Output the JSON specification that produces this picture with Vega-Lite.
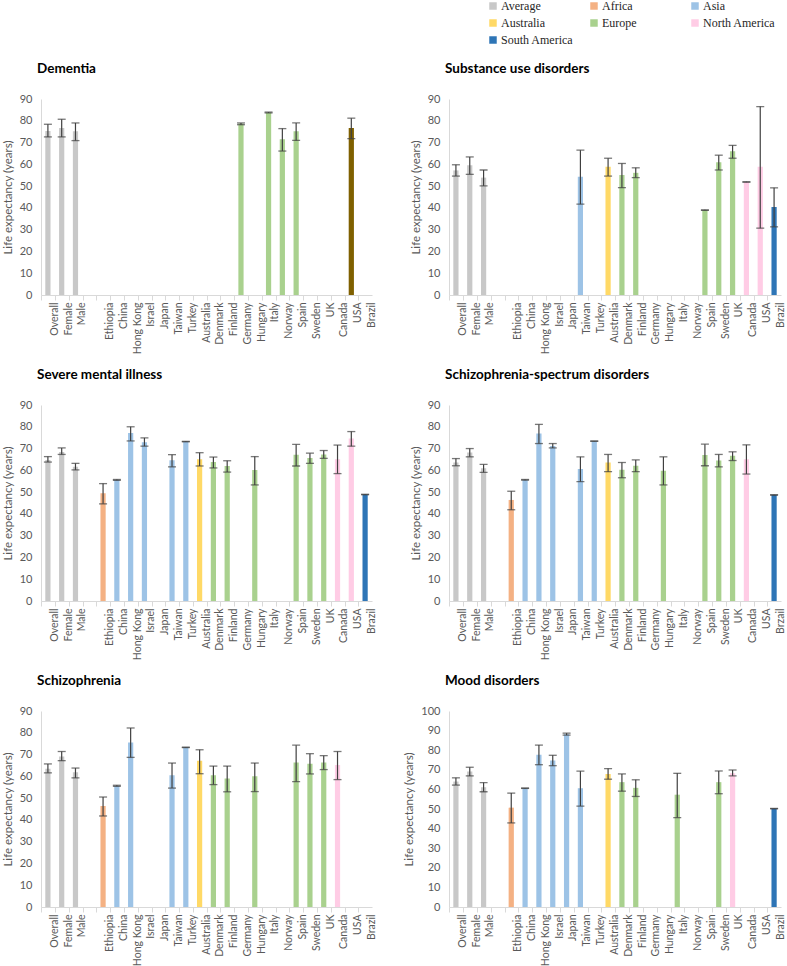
{
  "$schema": "https://vega.github.io/schema/vega-lite/v6.json",
  "padding": {"left": 2, "top": 0, "right": 0, "bottom": 0},
  "data": {"values": [
    {"panel":"Dementia","country":"Overall","value":75.3,"low":72.6,"high":78.4,"region":"Average"},
    {"panel":"Dementia","country":"Female","value":76.7,"low":72.6,"high":80.7,"region":"Average"},
    {"panel":"Dementia","country":"Male","value":75.2,"low":70.9,"high":79.0,"region":"Average"},
    {"panel":"Dementia","country":"Germany","value":78.7,"low":78.2,"high":79.0,"region":"Europe"},
    {"panel":"Dementia","country":"Italy","value":83.8,"low":83.6,"high":84.0,"region":"Europe"},
    {"panel":"Dementia","country":"Norway","value":71.5,"low":66.1,"high":76.4,"region":"Europe"},
    {"panel":"Dementia","country":"Spain","value":75.2,"low":71.0,"high":79.0,"region":"Europe"},
    {"panel":"Dementia","country":"USA","value":76.7,"low":71.8,"high":81.2,"region":"Other"},

    {"panel":"Substance","country":"Overall","value":57.2,"low":54.6,"high":59.8,"region":"Average"},
    {"panel":"Substance","country":"Female","value":59.6,"low":55.4,"high":63.4,"region":"Average"},
    {"panel":"Substance","country":"Male","value":53.9,"low":50.1,"high":57.4,"region":"Average"},
    {"panel":"Substance","country":"Taiwan","value":54.3,"low":41.7,"high":66.5,"region":"Asia"},
    {"panel":"Substance","country":"Australia","value":58.9,"low":54.6,"high":62.8,"region":"Australia"},
    {"panel":"Substance","country":"Denmark","value":55.1,"low":49.3,"high":60.4,"region":"Europe"},
    {"panel":"Substance","country":"Finland","value":56.1,"low":53.9,"high":58.4,"region":"Europe"},
    {"panel":"Substance","country":"Spain","value":39.0,"low":38.9,"high":39.1,"region":"Europe"},
    {"panel":"Substance","country":"Sweden","value":61.0,"low":57.4,"high":64.2,"region":"Europe"},
    {"panel":"Substance","country":"UK","value":66.0,"low":62.8,"high":68.7,"region":"Europe"},
    {"panel":"Substance","country":"Canada","value":51.9,"low":51.8,"high":52.0,"region":"North America"},
    {"panel":"Substance","country":"USA","value":58.9,"low":30.7,"high":86.5,"region":"North America"},
    {"panel":"Substance","country":"Brazil","value":40.4,"low":31.3,"high":49.2,"region":"South America"},

    {"panel":"SMI","country":"Overall","value":64.8,"low":63.8,"high":66.3,"region":"Average"},
    {"panel":"SMI","country":"Female","value":68.4,"low":67.3,"high":70.3,"region":"Average"},
    {"panel":"SMI","country":"Male","value":61.7,"low":60.2,"high":63.2,"region":"Average"},
    {"panel":"SMI","country":"Ethiopia","value":49.5,"low":44.6,"high":53.9,"region":"Africa"},
    {"panel":"SMI","country":"China","value":55.6,"low":55.4,"high":55.8,"region":"Asia"},
    {"panel":"SMI","country":"Hong Kong","value":77.2,"low":73.5,"high":80.0,"region":"Asia"},
    {"panel":"SMI","country":"Israel","value":72.9,"low":71.1,"high":74.9,"region":"Asia"},
    {"panel":"SMI","country":"Taiwan","value":64.6,"low":61.6,"high":67.2,"region":"Asia"},
    {"panel":"SMI","country":"Turkey","value":73.2,"low":73.1,"high":73.3,"region":"Asia"},
    {"panel":"SMI","country":"Australia","value":65.1,"low":62.0,"high":68.1,"region":"Australia"},
    {"panel":"SMI","country":"Denmark","value":63.8,"low":61.1,"high":66.1,"region":"Europe"},
    {"panel":"SMI","country":"Finland","value":62.0,"low":59.2,"high":64.4,"region":"Europe"},
    {"panel":"SMI","country":"Hungary","value":60.1,"low":53.3,"high":66.3,"region":"Europe"},
    {"panel":"SMI","country":"Spain","value":67.2,"low":62.0,"high":71.9,"region":"Europe"},
    {"panel":"SMI","country":"Sweden","value":65.7,"low":63.2,"high":67.9,"region":"Europe"},
    {"panel":"SMI","country":"UK","value":67.3,"low":65.5,"high":69.1,"region":"Europe"},
    {"panel":"SMI","country":"Canada","value":65.1,"low":58.5,"high":71.6,"region":"North America"},
    {"panel":"SMI","country":"USA","value":74.6,"low":71.1,"high":77.8,"region":"North America"},
    {"panel":"SMI","country":"Brazil","value":48.9,"low":48.8,"high":49.0,"region":"South America"},

    {"panel":"SSD","country":"Overall","value":63.6,"low":62.1,"high":65.4,"region":"Average"},
    {"panel":"SSD","country":"Female","value":68.2,"low":66.2,"high":70.0,"region":"Average"},
    {"panel":"SSD","country":"Male","value":60.9,"low":59.1,"high":62.7,"region":"Average"},
    {"panel":"SSD","country":"Ethiopia","value":46.4,"low":41.9,"high":50.4,"region":"Africa"},
    {"panel":"SSD","country":"China","value":55.6,"low":55.5,"high":55.8,"region":"Asia"},
    {"panel":"SSD","country":"Hong Kong","value":76.9,"low":72.3,"high":81.1,"region":"Asia"},
    {"panel":"SSD","country":"Israel","value":71.2,"low":70.3,"high":72.3,"region":"Asia"},
    {"panel":"SSD","country":"Taiwan","value":60.6,"low":54.8,"high":66.2,"region":"Asia"},
    {"panel":"SSD","country":"Turkey","value":73.4,"low":73.3,"high":73.5,"region":"Asia"},
    {"panel":"SSD","country":"Australia","value":63.6,"low":59.4,"high":67.3,"region":"Australia"},
    {"panel":"SSD","country":"Denmark","value":60.3,"low":56.6,"high":63.6,"region":"Europe"},
    {"panel":"SSD","country":"Finland","value":62.1,"low":59.4,"high":64.8,"region":"Europe"},
    {"panel":"SSD","country":"Hungary","value":59.8,"low":53.3,"high":66.2,"region":"Europe"},
    {"panel":"SSD","country":"Spain","value":67.0,"low":62.1,"high":72.0,"region":"Europe"},
    {"panel":"SSD","country":"Sweden","value":64.5,"low":61.6,"high":67.3,"region":"Europe"},
    {"panel":"SSD","country":"UK","value":66.7,"low":64.5,"high":68.5,"region":"Europe"},
    {"panel":"SSD","country":"Canada","value":65.1,"low":58.3,"high":71.7,"region":"North America"},
    {"panel":"SSD","country":"Brzail","value":48.7,"low":48.6,"high":48.8,"region":"South America"},

    {"panel":"Schizophrenia","country":"Overall","value":63.5,"low":61.6,"high":65.7,"region":"Average"},
    {"panel":"Schizophrenia","country":"Female","value":69.1,"low":67.2,"high":71.4,"region":"Average"},
    {"panel":"Schizophrenia","country":"Male","value":61.9,"low":59.3,"high":63.8,"region":"Average"},
    {"panel":"Schizophrenia","country":"Ethiopia","value":46.4,"low":41.8,"high":50.5,"region":"Africa"},
    {"panel":"Schizophrenia","country":"China","value":55.6,"low":55.4,"high":55.9,"region":"Asia"},
    {"panel":"Schizophrenia","country":"Hong Kong","value":75.5,"low":68.7,"high":82.2,"region":"Asia"},
    {"panel":"Schizophrenia","country":"Taiwan","value":60.5,"low":54.6,"high":66.1,"region":"Asia"},
    {"panel":"Schizophrenia","country":"Turkey","value":73.3,"low":73.2,"high":73.4,"region":"Asia"},
    {"panel":"Schizophrenia","country":"Australia","value":67.2,"low":61.2,"high":72.2,"region":"Australia"},
    {"panel":"Schizophrenia","country":"Denmark","value":60.5,"low":56.2,"high":64.7,"region":"Europe"},
    {"panel":"Schizophrenia","country":"Finland","value":59.0,"low":52.9,"high":64.7,"region":"Europe"},
    {"panel":"Schizophrenia","country":"Hungary","value":60.0,"low":53.0,"high":66.1,"region":"Europe"},
    {"panel":"Schizophrenia","country":"Spain","value":66.4,"low":57.6,"high":74.3,"region":"Europe"},
    {"panel":"Schizophrenia","country":"Sweden","value":65.8,"low":61.1,"high":70.4,"region":"Europe"},
    {"panel":"Schizophrenia","country":"UK","value":66.4,"low":63.1,"high":69.5,"region":"Europe"},
    {"panel":"Schizophrenia","country":"Canada","value":65.2,"low":58.5,"high":71.4,"region":"North America"},

    {"panel":"Mood","country":"Overall","value":64.0,"low":62.2,"high":65.9,"region":"Average"},
    {"panel":"Mood","country":"Female","value":69.1,"low":66.9,"high":71.3,"region":"Average"},
    {"panel":"Mood","country":"Male","value":61.1,"low":58.8,"high":63.5,"region":"Average"},
    {"panel":"Mood","country":"Ethiopia","value":50.7,"low":42.9,"high":58.1,"region":"Africa"},
    {"panel":"Mood","country":"China","value":60.6,"low":60.5,"high":60.7,"region":"Asia"},
    {"panel":"Mood","country":"Hong Kong","value":77.7,"low":72.6,"high":82.6,"region":"Asia"},
    {"panel":"Mood","country":"Israel","value":74.7,"low":72.1,"high":77.4,"region":"Asia"},
    {"panel":"Mood","country":"Japan","value":88.2,"low":87.7,"high":88.7,"region":"Asia"},
    {"panel":"Mood","country":"Taiwan","value":60.6,"low":51.5,"high":69.3,"region":"Asia"},
    {"panel":"Mood","country":"Australia","value":67.9,"low":65.2,"high":70.6,"region":"Australia"},
    {"panel":"Mood","country":"Denmark","value":63.7,"low":59.1,"high":67.9,"region":"Europe"},
    {"panel":"Mood","country":"Finland","value":60.8,"low":56.4,"high":64.9,"region":"Europe"},
    {"panel":"Mood","country":"Italy","value":57.3,"low":45.6,"high":68.2,"region":"Europe"},
    {"panel":"Mood","country":"Sweden","value":63.7,"low":57.8,"high":69.4,"region":"Europe"},
    {"panel":"Mood","country":"UK","value":68.2,"low":66.9,"high":69.9,"region":"North America"},
    {"panel":"Mood","country":"Brazil","value":50.2,"low":50.1,"high":50.3,"region":"South America"}
  ]},
  "columns": 2,
  "spacing": {"row": 13, "column": 25},
  "concat": [
    {
      "title": {"text": "Dementia"},
      "width": 331, "height": 196,
      "transform": [{"filter": "datum.panel === 'Dementia'"}],
      "encoding": {"x": {"field": "country", "type": "nominal", "scale": {"domain": ["Overall","Female","Male"," ","Ethiopia","China","Hong Kong","Israel","Japan","Taiwan","Turkey","Australia","Denmark","Finland","Germany","Hungary","Italy","Norway","Spain","Sweden","UK","Canada","USA","Brazil"]}, "axis": {"title": null, "labelOffset": 6.9}}},
      "layer": [
        {"mark": {"type": "bar", "width": {"band": 0.42}},
         "encoding": {"y": {"field": "value", "type": "quantitative", "scale": {"domain": [0, 90], "nice": false}, "axis": {"values": [0,10,20,30,40,50,60,70,80,90]}, "title": "Life expectancy (years)"},
           "color": {"field": "region", "type": "nominal", "scale": {"domain": ["Average","Africa","Asia","Australia","Europe","North America","South America","Other"], "range": ["#c8c8c8","#f4b183","#9dc3e6","#ffd966","#a9d18e","#ffcce5","#2e75b6","#7f6000"]}, "legend": {"values": ["Average","Africa","Asia","Australia","Europe","North America","South America"], "encode": {"symbols": {"update": {"fill": {"signal": "datum.value === 'Average' ? '#7f7f7f' : datum.value === 'Africa' ? '#c55a11' : datum.value === 'Asia' ? '#9dc3e6' : datum.value === 'Australia' ? '#ffd966' : datum.value === 'Europe' ? '#70ad47' : datum.value === 'North America' ? '#ffcce5' : '#2e75b6'"}}}}}}}},
        {"mark": {"type": "errorbar", "ticks": {"size": 8, "color": "#404040", "thickness": 1.3}, "rule": {"color": "#404040", "strokeWidth": 1.2}},
         "encoding": {"y": {"field": "low", "type": "quantitative", "axis": {"values": [0,10,20,30,40,50,60,70,80,90]}, "title": "Life expectancy (years)"}, "y2": {"field": "high"}}}
      ]
    },
    {
      "title": {"text": "Substance use disorders"},
      "width": 332, "height": 196,
      "transform": [{"filter": "datum.panel === 'Substance'"}],
      "encoding": {"x": {"field": "country", "type": "nominal", "scale": {"domain": ["Overall","Female","Male"," ","Ethiopia","China","Hong Kong","Israel","Japan","Taiwan","Turkey","Australia","Denmark","Finland","Germany","Hungary","Italy","Norway","Spain","Sweden","UK","Canada","USA","Brazil"]}, "axis": {"title": null, "labelOffset": 6.9}}},
      "layer": [
        {"mark": {"type": "bar", "width": {"band": 0.42}},
         "encoding": {"y": {"field": "value", "type": "quantitative", "scale": {"domain": [0, 90], "nice": false}, "axis": {"values": [0,10,20,30,40,50,60,70,80,90]}, "title": "Life expectancy (years)"},
           "color": {"field": "region", "type": "nominal", "legend": {"values": ["Average","Africa","Asia","Australia","Europe","North America","South America"], "encode": {"symbols": {"update": {"fill": {"signal": "datum.value === 'Average' ? '#7f7f7f' : datum.value === 'Africa' ? '#c55a11' : datum.value === 'Asia' ? '#9dc3e6' : datum.value === 'Australia' ? '#ffd966' : datum.value === 'Europe' ? '#70ad47' : datum.value === 'North America' ? '#ffcce5' : '#2e75b6'"}}}}}}}},
        {"mark": {"type": "errorbar", "ticks": {"size": 8, "color": "#404040", "thickness": 1.3}, "rule": {"color": "#404040", "strokeWidth": 1.2}},
         "encoding": {"y": {"field": "low", "type": "quantitative", "axis": {"values": [0,10,20,30,40,50,60,70,80,90]}, "title": "Life expectancy (years)"}, "y2": {"field": "high"}}}
      ]
    },
    {
      "title": {"text": "Severe mental illness"},
      "width": 331, "height": 196,
      "transform": [{"filter": "datum.panel === 'SMI'"}],
      "encoding": {"x": {"field": "country", "type": "nominal", "scale": {"domain": ["Overall","Female","Male"," ","Ethiopia","China","Hong Kong","Israel","Japan","Taiwan","Turkey","Australia","Denmark","Finland","Germany","Hungary","Italy","Norway","Spain","Sweden","UK","Canada","USA","Brazil"]}, "axis": {"title": null, "labelOffset": 6.9}}},
      "layer": [
        {"mark": {"type": "bar", "width": {"band": 0.42}},
         "encoding": {"y": {"field": "value", "type": "quantitative", "scale": {"domain": [0, 90], "nice": false}, "axis": {"values": [0,10,20,30,40,50,60,70,80,90]}, "title": "Life expectancy (years)"},
           "color": {"field": "region", "type": "nominal", "legend": {"values": ["Average","Africa","Asia","Australia","Europe","North America","South America"], "encode": {"symbols": {"update": {"fill": {"signal": "datum.value === 'Average' ? '#7f7f7f' : datum.value === 'Africa' ? '#c55a11' : datum.value === 'Asia' ? '#9dc3e6' : datum.value === 'Australia' ? '#ffd966' : datum.value === 'Europe' ? '#70ad47' : datum.value === 'North America' ? '#ffcce5' : '#2e75b6'"}}}}}}}},
        {"mark": {"type": "errorbar", "ticks": {"size": 8, "color": "#404040", "thickness": 1.3}, "rule": {"color": "#404040", "strokeWidth": 1.2}},
         "encoding": {"y": {"field": "low", "type": "quantitative", "axis": {"values": [0,10,20,30,40,50,60,70,80,90]}, "title": "Life expectancy (years)"}, "y2": {"field": "high"}}}
      ]
    },
    {
      "title": {"text": "Schizophrenia-spectrum disorders"},
      "width": 332, "height": 196,
      "transform": [{"filter": "datum.panel === 'SSD'"}],
      "encoding": {"x": {"field": "country", "type": "nominal", "scale": {"domain": ["Overall","Female","Male"," ","Ethiopia","China","Hong Kong","Israel","Japan","Taiwan","Turkey","Australia","Denmark","Finland","Germany","Hungary","Italy","Norway","Spain","Sweden","UK","Canada","USA","Brzail"]}, "axis": {"title": null, "labelOffset": 6.9}}},
      "layer": [
        {"mark": {"type": "bar", "width": {"band": 0.42}},
         "encoding": {"y": {"field": "value", "type": "quantitative", "scale": {"domain": [0, 90], "nice": false}, "axis": {"values": [0,10,20,30,40,50,60,70,80,90]}, "title": "Life expectancy (years)"},
           "color": {"field": "region", "type": "nominal", "legend": {"values": ["Average","Africa","Asia","Australia","Europe","North America","South America"], "encode": {"symbols": {"update": {"fill": {"signal": "datum.value === 'Average' ? '#7f7f7f' : datum.value === 'Africa' ? '#c55a11' : datum.value === 'Asia' ? '#9dc3e6' : datum.value === 'Australia' ? '#ffd966' : datum.value === 'Europe' ? '#70ad47' : datum.value === 'North America' ? '#ffcce5' : '#2e75b6'"}}}}}}}},
        {"mark": {"type": "errorbar", "ticks": {"size": 8, "color": "#404040", "thickness": 1.3}, "rule": {"color": "#404040", "strokeWidth": 1.2}},
         "encoding": {"y": {"field": "low", "type": "quantitative", "axis": {"values": [0,10,20,30,40,50,60,70,80,90]}, "title": "Life expectancy (years)"}, "y2": {"field": "high"}}}
      ]
    },
    {
      "title": {"text": "Schizophrenia"},
      "width": 331, "height": 196,
      "transform": [{"filter": "datum.panel === 'Schizophrenia'"}],
      "encoding": {"x": {"field": "country", "type": "nominal", "scale": {"domain": ["Overall","Female","Male"," ","Ethiopia","China","Hong Kong","Israel","Japan","Taiwan","Turkey","Australia","Denmark","Finland","Germany","Hungary","Italy","Norway","Spain","Sweden","UK","Canada","USA","Brazil"]}, "axis": {"title": null, "labelOffset": 6.9}}},
      "layer": [
        {"mark": {"type": "bar", "width": {"band": 0.42}},
         "encoding": {"y": {"field": "value", "type": "quantitative", "scale": {"domain": [0, 90], "nice": false}, "axis": {"values": [0,10,20,30,40,50,60,70,80,90]}, "title": "Life expectancy (years)"},
           "color": {"field": "region", "type": "nominal", "legend": {"values": ["Average","Africa","Asia","Australia","Europe","North America","South America"], "encode": {"symbols": {"update": {"fill": {"signal": "datum.value === 'Average' ? '#7f7f7f' : datum.value === 'Africa' ? '#c55a11' : datum.value === 'Asia' ? '#9dc3e6' : datum.value === 'Australia' ? '#ffd966' : datum.value === 'Europe' ? '#70ad47' : datum.value === 'North America' ? '#ffcce5' : '#2e75b6'"}}}}}}}},
        {"mark": {"type": "errorbar", "ticks": {"size": 8, "color": "#404040", "thickness": 1.3}, "rule": {"color": "#404040", "strokeWidth": 1.2}},
         "encoding": {"y": {"field": "low", "type": "quantitative", "axis": {"values": [0,10,20,30,40,50,60,70,80,90]}, "title": "Life expectancy (years)"}, "y2": {"field": "high"}}}
      ]
    },
    {
      "title": {"text": "Mood disorders"},
      "width": 332, "height": 196,
      "transform": [{"filter": "datum.panel === 'Mood'"}],
      "encoding": {"x": {"field": "country", "type": "nominal", "scale": {"domain": ["Overall","Female","Male"," ","Ethiopia","China","Hong Kong","Israel","Japan","Taiwan","Turkey","Australia","Denmark","Finland","Germany","Hungary","Italy","Norway","Spain","Sweden","UK","Canada","USA","Brazil"]}, "axis": {"title": null, "labelOffset": 6.9}}},
      "layer": [
        {"mark": {"type": "bar", "width": {"band": 0.42}},
         "encoding": {"y": {"field": "value", "type": "quantitative", "scale": {"domain": [0, 100], "nice": false}, "axis": {"values": [0,10,20,30,40,50,60,70,80,90,100]}, "title": "Life expectancy (years)"},
           "color": {"field": "region", "type": "nominal", "legend": {"values": ["Average","Africa","Asia","Australia","Europe","North America","South America"], "encode": {"symbols": {"update": {"fill": {"signal": "datum.value === 'Average' ? '#7f7f7f' : datum.value === 'Africa' ? '#c55a11' : datum.value === 'Asia' ? '#9dc3e6' : datum.value === 'Australia' ? '#ffd966' : datum.value === 'Europe' ? '#70ad47' : datum.value === 'North America' ? '#ffcce5' : '#2e75b6'"}}}}}}}},
        {"mark": {"type": "errorbar", "ticks": {"size": 8, "color": "#404040", "thickness": 1.3}, "rule": {"color": "#404040", "strokeWidth": 1.2}},
         "encoding": {"y": {"field": "low", "type": "quantitative", "axis": {"values": [0,10,20,30,40,50,60,70,80,90,100]}, "title": "Life expectancy (years)"}, "y2": {"field": "high"}}}
      ]
    }
  ],
  "config": {
    "view": {"stroke": null},
    "title": {"font": "Lato", "fontSize": 13.5, "fontWeight": "bold", "color": "#000000", "anchor": "start", "frame": "group", "offset": 18, "dx": -4},
    "axis": {"labelFont": "Lato", "titleFont": "Lato", "labelColor": "#595959", "titleColor": "#595959", "domainColor": "#d9d9d9", "tickColor": "#d9d9d9", "grid": false, "titleFontWeight": "normal"},
    "axisY": {"ticks": false, "labelFontSize": 11, "titleFontSize": 11.5, "labelPadding": 9, "titlePadding": 6, "labelOverlap": false},
    "axisX": {"labelAngle": -90, "labelFontSize": 10.5, "tickSize": 5, "bandPosition": 0, "labelPadding": 2, "labelOverlap": false},
    "legend": {"orient": "none", "legendX": 446, "legendY": -99, "title": null, "columns": 3, "direction": "horizontal", "gridAlign": "all", "symbolType": "square", "symbolSize": 56, "symbolStrokeWidth": 0, "labelFont": "Times New Roman, Liberation Serif, serif", "labelFontSize": 12, "labelColor": "#262626", "labelOffset": 2, "columnPadding": 14, "rowPadding": 5, "symbolOpacity": 1}
  }
}
